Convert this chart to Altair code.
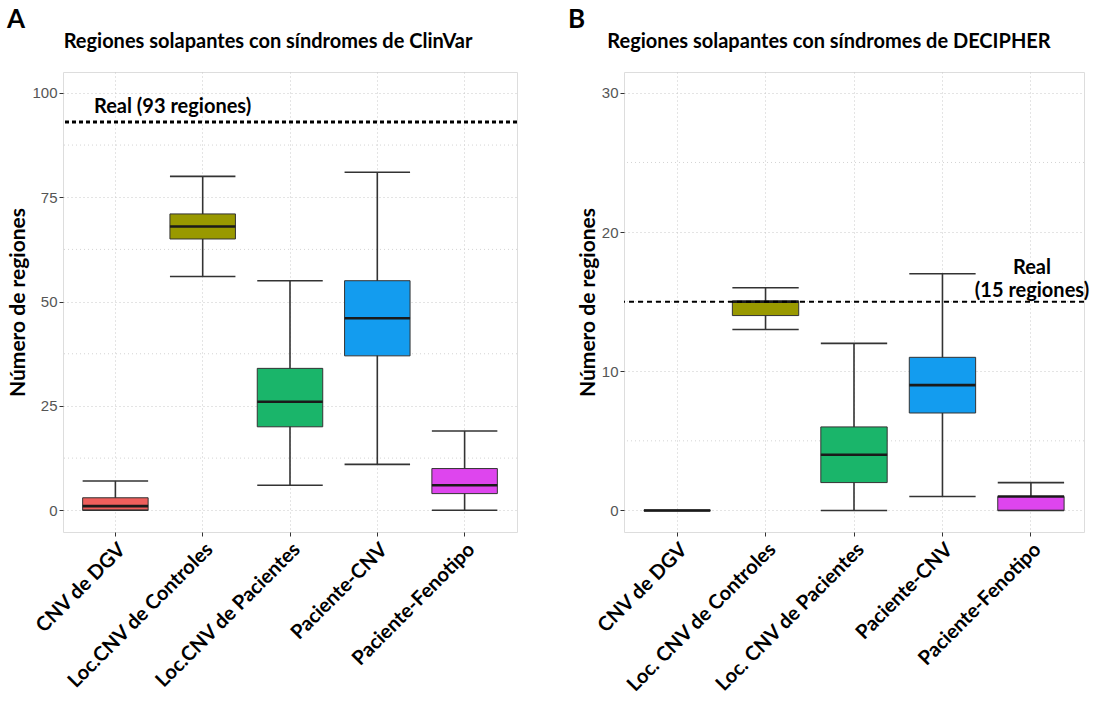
import altair as alt
import pandas as pd

# ---------------- data ----------------
cats_a = ["CNV de DGV", "Loc.CNV de Controles", "Loc.CNV de Pacientes", "Paciente-CNV", "Paciente-Fenotipo"]
min_a = [0, 56, 6, 11, 0]
q1_a = [0, 65, 20, 37, 4]
med_a = [1, 68, 26, 46, 6]
q3_a = [3, 71, 34, 55, 10]
max_a = [7, 80, 55, 81, 19]
real_a = 93

cats_b = ["CNV de DGV", "Loc. CNV de Controles", "Loc. CNV de Pacientes", "Paciente-CNV", "Paciente-Fenotipo"]
min_b = [0, 13, 0, 1, 0]
q1_b = [0, 14, 2, 7, 0]
med_b = [0, 15, 4, 9, 1]
q3_b = [0, 15, 6, 11, 1]
max_b = [0, 16, 12, 17, 2]
real_b = 15

colors = ["#EF5F5C", "#999900", "#1AB56A", "#139CEF", "#DE45EE"]

minor_a = [12.5, 37.5, 62.5, 87.5]
minor_b = [5, 15, 25]

FONT_B = "Lato"
FONT_T = "Liberation Sans"


def panel(cats, mn, q1, md, q3, mx, real, domain, ticks, minor, title, letter, width, height, texts):
    df = pd.DataFrame({"cat": cats, "min": mn, "q1": q1, "med": md, "q3": q3, "max": mx})
    step = width / 5.2
    bw = step * 0.75
    xscale = alt.Scale(domain=cats, paddingInner=0, paddingOuter=0.1)
    yscale = alt.Scale(domain=domain, nice=False, zero=False)
    x = alt.X("cat:N", scale=xscale, sort=cats, title=None,
              axis=alt.Axis(labelAngle=315, labelAlign="right", labelBaseline="top",
                            labelFont=FONT_B, labelFontWeight="bold", labelFontSize=20,
                            labelColor="black", labelPadding=3, tickSize=4, tickColor="#333333",
                            grid=True, gridDash=[1, 3], gridColor="#c8c8c8", domain=False,
                            labelOverlap=False, labelLimit=400))
    y_axis = alt.Axis(values=ticks, labelFont=FONT_T, labelFontSize=15, labelColor="#555555",
                      tickSize=4, tickColor="#333333", labelPadding=2,
                      title="Número de regiones", titleFont=FONT_B, titleFontSize=21,
                      titleFontWeight="bold", titleColor="black", titlePadding=3,
                      grid=True, gridDash=[1, 3], gridColor="#c8c8c8", domain=False)

    base = alt.Chart(df)
    minor_df = pd.DataFrame({"v": minor})
    minor_rule = alt.Chart(minor_df).mark_rule(strokeDash=[1, 3], color="#d4d4d4", strokeWidth=1).encode(
        y=alt.Y("v:Q", scale=yscale, axis=y_axis))
    whisk = base.mark_rule(color="#333333", strokeWidth=1.6).encode(
        x=x, y=alt.Y("min:Q", scale=yscale, axis=y_axis), y2="max:Q")
    box = base.mark_bar(width=bw, stroke="#333333", strokeWidth=1, opacity=1).encode(
        x=x, y=alt.Y("q1:Q", scale=yscale), y2="q3:Q",
        color=alt.Color("cat:N", scale=alt.Scale(domain=cats, range=colors), legend=None))
    cap_lo = base.mark_tick(size=bw, thickness=1.6, color="#333333", opacity=1).encode(
        x=x, y=alt.Y("min:Q", scale=yscale))
    cap_hi = base.mark_tick(size=bw, thickness=1.6, color="#333333", opacity=1).encode(
        x=x, y=alt.Y("max:Q", scale=yscale))
    median = base.mark_tick(size=bw, thickness=2.6, color="#1a1a1a", opacity=1).encode(
        x=x, y=alt.Y("med:Q", scale=yscale))
    real_df = pd.DataFrame({"r": [real]})
    if real > 50:
        hl = alt.Chart(real_df).mark_rule(strokeDash=[4, 3], strokeWidth=3, color="black").encode(
            y=alt.Y("r:Q", scale=yscale))
    else:
        hl = alt.Chart(real_df).mark_rule(strokeDash=[5, 4], strokeWidth=2, color="black").encode(
            y=alt.Y("r:Q", scale=yscale))
    layers = [minor_rule, whisk, box, cap_lo, cap_hi, median, hl]
    for row in texts:
        layers.append(alt.Chart(pd.DataFrame({"val": [row["val"]], "t": [row["t"]]})).mark_text(
            font=FONT_B, fontWeight="bold", fontSize=20, color="black", baseline="middle",
            align=row["al"]).encode(x=alt.value(row["px"]), y=alt.Y("val:Q", scale=yscale), text="t:N"))
    let = alt.Chart(pd.DataFrame({"t": [letter]})).mark_text(
        font=FONT_B, fontWeight="bold", fontSize=26, color="black", align="left", baseline="middle").encode(
        x=alt.value(-56), y=alt.value(-52), text="t:N")
    ttl = alt.Chart(pd.DataFrame({"t": [title]})).mark_text(
        font=FONT_B, fontWeight="bold", fontSize=20, color="black", align="center", baseline="middle").encode(
        x=alt.value(205), y=alt.value(-30), text="t:N")
    layers += [let, ttl]
    return alt.layer(*layers).properties(width=width, height=height)


pa = panel(cats_a, min_a, q1_a, med_a, q3_a, max_a, real_a, [-5.2, 105], [0, 25, 50, 75, 100], minor_a,
           "Regiones solapantes con síndromes de ClinVar", "A", 454, 460,
           [{"px": 31, "val": 96.6, "t": "Real (93 regiones)", "al": "left"}])
pb = panel(cats_b, min_b, q1_b, med_b, q3_b, max_b, real_b, [-1.55, 31.5], [0, 10, 20, 30], minor_b,
           "Regiones solapantes con síndromes de DECIPHER", "B", 460, 460,
           [{"px": 408, "val": 17.4, "t": "Real", "al": "center"},
            {"px": 408, "val": 15.75, "t": "(15 regiones)", "al": "center"}])

chart = alt.hconcat(pa, pb, spacing=48).resolve_scale(
    y="independent", x="independent", color="independent").configure_view(
    stroke="#333333", strokeWidth=1.2).configure(
    background="white", padding={"left": 6, "top": 6, "right": 0, "bottom": 0})

chart.save("out.html", embed_options={"renderer": "svg", "actions": False})
